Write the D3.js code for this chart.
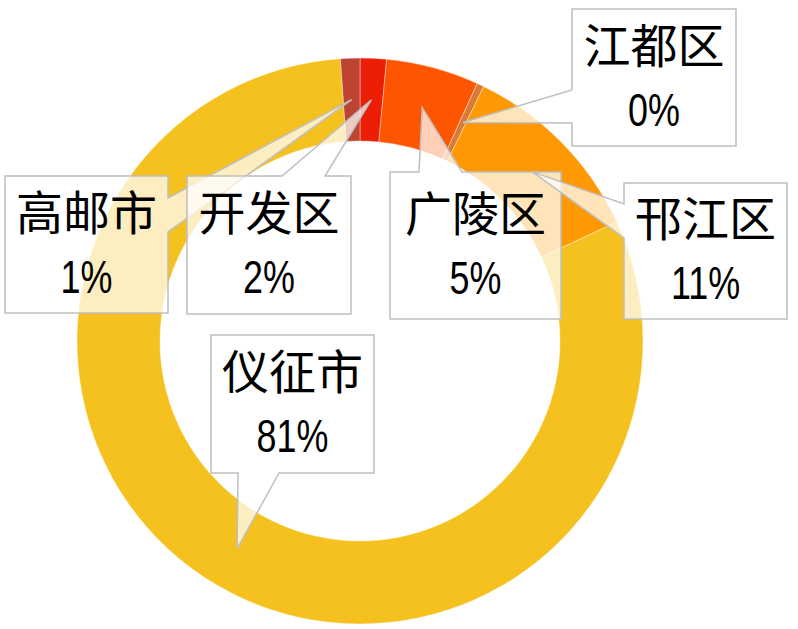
<!DOCTYPE html>
<html>
<head>
<meta charset="utf-8">
<script src="https://cdn.jsdelivr.net/npm/d3@7"></script>
<style>
  body { margin: 0; background: #fff; }
  text { font-family: "Noto Sans CJK SC", "Noto Sans", sans-serif; fill: #000; }
  text.pct { font-family: "Liberation Sans", Arial, sans-serif; }
</style>
</head>
<body>
<script>
// slices, clockwise from 12 o'clock
var categories = ["开发区", "广陵区", "江都区", "邗江区", "仪征市", "高邮市"];
var shares = [1.5, 5.3, 0.4, 10.9, 80.8, 1.1];
var colors = ["#EC1E06", "#FE5500", "#DB7A35", "#FE9904", "#F5C11F", "#BC4430"];

// callout boxes: [x, y, w, h], side the pointer leaves from, pointer base
var callouts = {
  "高邮市": { box: [5, 176, 163, 137], side: "right", base: [198, 232] },
  "开发区": { box: [187, 176, 164, 138], side: "top", base: [282, 325] },
  "广陵区": { box: [390, 172, 171, 147], side: "top", base: [419, 462] },
  "江都区": { box: [572, 9, 164, 137], side: "left", base: [90, 123] },
  "邗江区": { box: [624, 183, 163, 136], side: "left", base: [204, 238] },
  "仪征市": { box: [211, 335, 163, 138], side: "bottom", base: [238, 279] }
};
var drawOrder = ["高邮市", "开发区", "广陵区", "江都区", "邗江区", "仪征市"];

var width = 798, height = 629;
var cx = 360, cy = 341;

var svg = d3.select("body")
  .append("svg")
  .attr("width", width)
  .attr("height", height);

var color = d3.scaleOrdinal().domain(categories).range(colors);

var pie = d3.pie()
  .sort(null)
  .value(function(d) { return d.value; });

var arc = d3.arc()
  .innerRadius(200)
  .outerRadius(283);

var data = categories.map(function(c, i) { return { name: c, value: shares[i] }; });
var arcs = pie(data);

var g = svg.append("g").attr("transform", "translate(" + cx + "," + cy + ")");

g.selectAll("path")
  .data(arcs)
  .enter()
  .append("path")
  .attr("d", arc)
  .attr("fill", function(d) { return color(d.data.name); })
  .attr("stroke", "#fff")
  .attr("stroke-opacity", 0.5)
  .attr("stroke-width", 0.75);

function calloutPath(c, tip) {
  var x = c.box[0], y = c.box[1], w = c.box[2], h = c.box[3];
  var b = c.base, pts;
  if (c.side == "right") {
    pts = [[x, y], [x + w, y], [x + w, b[0]], tip, [x + w, b[1]], [x + w, y + h], [x, y + h]];
  } else if (c.side == "left") {
    pts = [[x, y], [x + w, y], [x + w, y + h], [x, y + h], [x, b[1]], tip, [x, b[0]]];
  } else if (c.side == "top") {
    pts = [[x, y], [b[0], y], tip, [b[1], y], [x + w, y], [x + w, y + h], [x, y + h]];
  } else {
    pts = [[x, y], [x + w, y], [x + w, y + h], [b[1], y + h], tip, [b[0], y + h], [x, y + h]];
  }
  return "M" + pts.map(function(p) { return p[0] + "," + p[1]; }).join("L") + "Z";
}

var fmt = function(v) { return Math.round(v) + "%"; };

drawOrder.forEach(function(name) {
  var d = arcs.filter(function(a) { return a.data.name == name; })[0];
  var c = callouts[name];
  var cen = arc.centroid(d);
  var tip = [cx + cen[0], cy + cen[1]];
  var bx = c.box[0] + c.box[2] / 2;
  var by = c.box[1] + c.box[3] / 2;

  var lab = svg.append("g");
  lab.append("path")
    .attr("d", calloutPath(c, tip))
    .attr("fill", "#fff")
    .attr("fill-opacity", 0.72)
    .attr("stroke", "#BFBFBF")
    .attr("stroke-width", 1.5)
    .attr("stroke-linejoin", "miter");

  lab.append("text")
    .attr("x", bx)
    .attr("y", by - 15)
    .attr("text-anchor", "middle")
    .style("font-size", "47px")
    .text(name);

  lab.append("text")
    .attr("class", "pct")
    .attr("transform", "translate(" + bx + "," + (by + 48) + ") scale(0.78,1)")
    .attr("text-anchor", "middle")
    .style("font-size", "46px")
    .text(fmt(d.data.value));
});
</script>
</body>
</html>
